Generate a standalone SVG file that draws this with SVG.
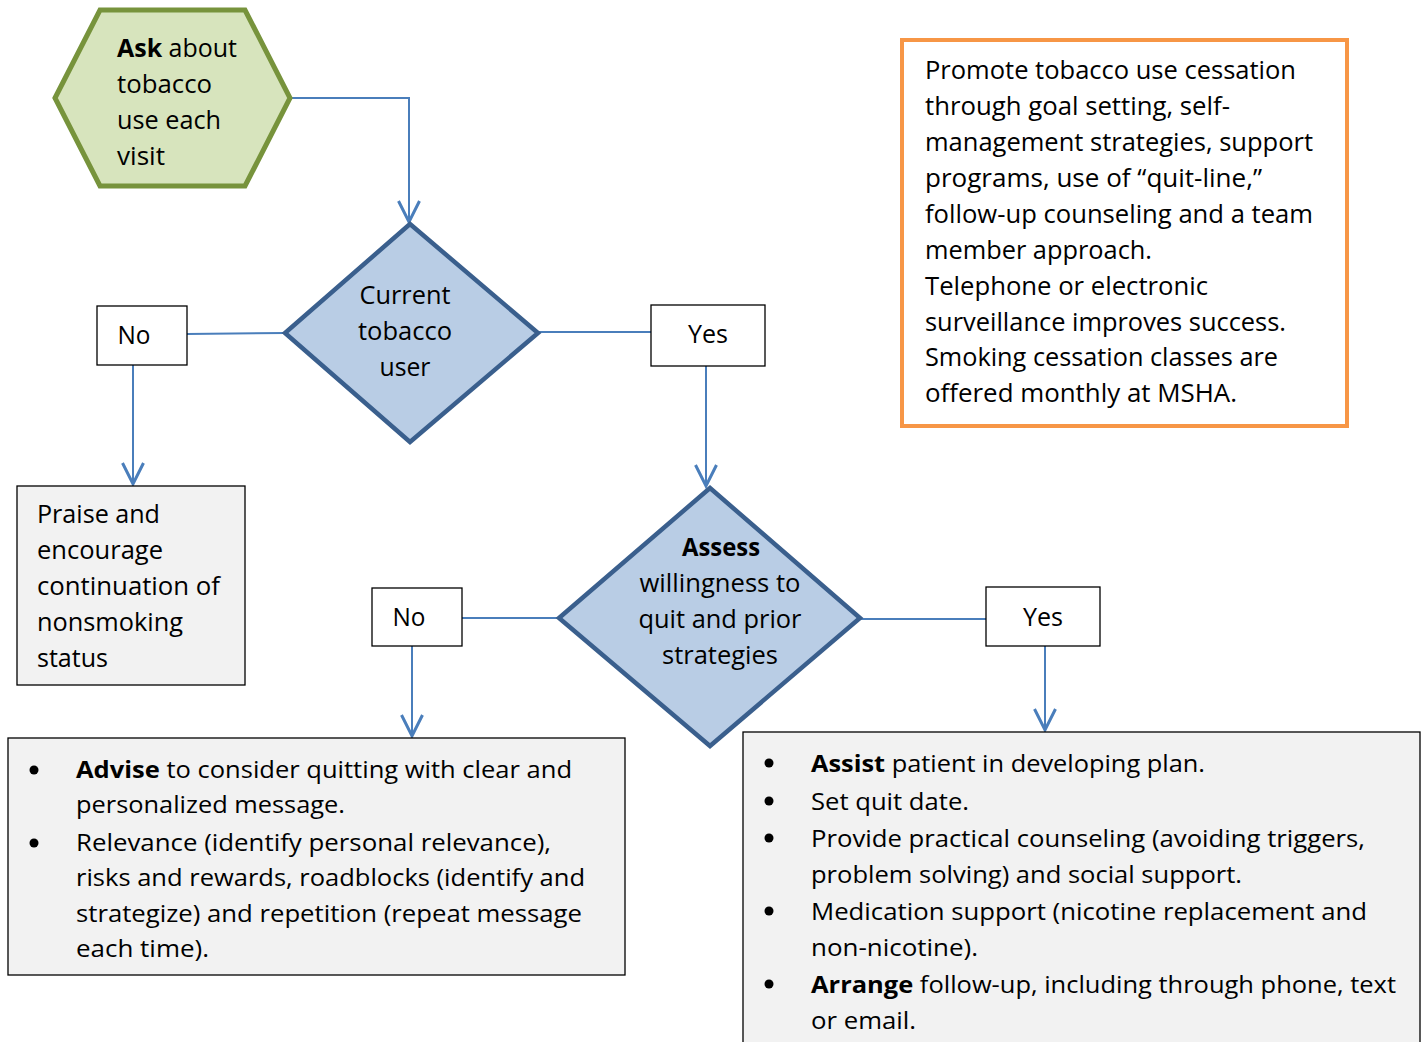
<svg xmlns="http://www.w3.org/2000/svg" width="1426" height="1042" viewBox="0 0 1426 1042">
<style>
text{font-family:"Open Sans","Noto Sans","Liberation Sans",sans-serif;fill:#000;}
.t{font-size:25px;}
.c{font-size:24px;}
.m{text-anchor:middle;}
.b{font-weight:bold;}
.conn{fill:none;stroke:#4a7ebb;stroke-width:2;}
.box{fill:#fff;stroke:#000;stroke-width:1.3;}
.gbox{fill:#f2f2f2;stroke:#000;stroke-width:1.3;}
.dia{fill:#b9cde5;stroke:#3a5f8d;stroke-width:4.5;stroke-linejoin:miter;}
</style>
<defs>
<marker id="arr" markerUnits="userSpaceOnUse" markerWidth="30" markerHeight="30" viewBox="-16 -10 20 20" refX="0" refY="0" orient="auto">
<path d="M-14,-7 L0,0 L-14,7" fill="none" stroke="#4a7ebb" stroke-width="2"/>
</marker>
</defs>
<rect width="1426" height="1042" fill="#fff"/>

<g id="connectors">
<path class="conn" d="M290,98 H409 V222" marker-end="url(#arr)"/>
<path class="conn" d="M285,333 L187,334"/>
<path class="conn" d="M538,332 H651"/>
<path class="conn" d="M133,365 V484" marker-end="url(#arr)"/>
<path class="conn" d="M706,366 V486" marker-end="url(#arr)"/>
<path class="conn" d="M559,618 H462"/>
<path class="conn" d="M860,619 H986"/>
<path class="conn" d="M412,646 V736" marker-end="url(#arr)"/>
<path class="conn" d="M1045,646 V730" marker-end="url(#arr)"/>
</g>

<g id="ask">
<polygon points="55,98 100,10 245,10 290,98 245,186 100,186" fill="#d7e4bd" stroke="#77933c" stroke-width="5"/>
<text class="t" x="117" y="57" textLength="120" lengthAdjust="spacingAndGlyphs"><tspan class="b">Ask</tspan> about</text>
<text class="t" x="117" y="93" textLength="95" lengthAdjust="spacingAndGlyphs">tobacco</text>
<text class="t" x="117" y="129" textLength="104" lengthAdjust="spacingAndGlyphs">use each</text>
<text class="t" x="117" y="165" textLength="48" lengthAdjust="spacingAndGlyphs">visit</text>
</g>

<g id="current">
<polygon class="dia" points="410,224 538,333 410,442 285,333"/>
<text class="t m" x="405" y="304" textLength="91" lengthAdjust="spacingAndGlyphs">Current</text>
<text class="t m" x="405" y="340" textLength="94" lengthAdjust="spacingAndGlyphs">tobacco</text>
<text class="t m" x="405" y="376" textLength="51" lengthAdjust="spacingAndGlyphs">user</text>
</g>

<g id="no1">
<rect class="box" x="97" y="306" width="90" height="59"/>
<text class="t m" x="134" y="344" textLength="33" lengthAdjust="spacingAndGlyphs">No</text>
</g>

<g id="yes1">
<rect class="box" x="651" y="305" width="114" height="61"/>
<text class="t m" x="708" y="343" textLength="40" lengthAdjust="spacingAndGlyphs">Yes</text>
</g>

<g id="praise">
<rect class="gbox" x="17" y="486" width="228" height="199"/>
<text class="t" x="37" y="523" textLength="123" lengthAdjust="spacingAndGlyphs">Praise and</text>
<text class="t" x="37" y="559" textLength="126" lengthAdjust="spacingAndGlyphs">encourage</text>
<text class="t" x="37" y="595" textLength="183" lengthAdjust="spacingAndGlyphs">continuation of</text>
<text class="t" x="37" y="631" textLength="146" lengthAdjust="spacingAndGlyphs">nonsmoking</text>
<text class="t" x="37" y="667" textLength="71" lengthAdjust="spacingAndGlyphs">status</text>
</g>

<g id="assess">
<polygon class="dia" points="710,488 860,618 710,746 559,618"/>
<text class="t m b" x="721" y="556" textLength="78" lengthAdjust="spacingAndGlyphs">Assess</text>
<text class="t m" x="720" y="592" textLength="161" lengthAdjust="spacingAndGlyphs">willingness to</text>
<text class="t m" x="720" y="628" textLength="163" lengthAdjust="spacingAndGlyphs">quit and prior</text>
<text class="t m" x="720" y="664" textLength="116" lengthAdjust="spacingAndGlyphs">strategies</text>
</g>

<g id="no2">
<rect class="box" x="372" y="588" width="90" height="58"/>
<text class="t m" x="409" y="626" textLength="33" lengthAdjust="spacingAndGlyphs">No</text>
</g>

<g id="yes2">
<rect class="box" x="986" y="587" width="114" height="59"/>
<text class="t m" x="1043" y="626" textLength="40" lengthAdjust="spacingAndGlyphs">Yes</text>
</g>

<g id="advise">
<rect class="gbox" x="8" y="738" width="617" height="237"/>
<circle cx="34" cy="770" r="4.5"/>
<circle cx="34" cy="843" r="4.5"/>
<text class="c" x="76" y="778" textLength="496" lengthAdjust="spacingAndGlyphs"><tspan class="b">Advise</tspan> to consider quitting with clear and</text>
<text class="c" x="76" y="813" textLength="269" lengthAdjust="spacingAndGlyphs">personalized message.</text>
<text class="c" x="76" y="851" textLength="475" lengthAdjust="spacingAndGlyphs">Relevance (identify personal relevance),</text>
<text class="c" x="76" y="886" textLength="509" lengthAdjust="spacingAndGlyphs">risks and rewards, roadblocks (identify and</text>
<text class="c" x="76" y="922" textLength="506" lengthAdjust="spacingAndGlyphs">strategize) and repetition (repeat message</text>
<text class="c" x="76" y="957" textLength="133" lengthAdjust="spacingAndGlyphs">each time).</text>
</g>

<g id="assist">
<rect class="gbox" x="743" y="732" width="677" height="320"/>
<circle cx="769" cy="763" r="4.5"/>
<circle cx="769" cy="801" r="4.5"/>
<circle cx="769" cy="838" r="4.5"/>
<circle cx="769" cy="911" r="4.5"/>
<circle cx="769" cy="984" r="4.5"/>
<text class="c" x="811" y="772" textLength="394" lengthAdjust="spacingAndGlyphs"><tspan class="b">Assist</tspan> patient in developing plan.</text>
<text class="c" x="811" y="810" textLength="158" lengthAdjust="spacingAndGlyphs">Set quit date.</text>
<text class="c" x="811" y="847" textLength="554" lengthAdjust="spacingAndGlyphs">Provide practical counseling (avoiding triggers,</text>
<text class="c" x="811" y="883" textLength="431" lengthAdjust="spacingAndGlyphs">problem solving) and social support.</text>
<text class="c" x="811" y="920" textLength="556" lengthAdjust="spacingAndGlyphs">Medication support (nicotine replacement and</text>
<text class="c" x="811" y="956" textLength="167" lengthAdjust="spacingAndGlyphs">non-nicotine).</text>
<text class="c" x="811" y="993" textLength="585" lengthAdjust="spacingAndGlyphs"><tspan class="b">Arrange</tspan> follow-up, including through phone, text</text>
<text class="c" x="811" y="1029" textLength="105" lengthAdjust="spacingAndGlyphs">or email.</text>
</g>

<g id="promote">
<rect x="902" y="40" width="445" height="386" fill="#fff" stroke="#f79646" stroke-width="4"/>
<text class="t" x="925" y="79" textLength="371" lengthAdjust="spacingAndGlyphs">Promote tobacco use cessation</text>
<text class="t" x="925" y="115" textLength="305" lengthAdjust="spacingAndGlyphs">through goal setting, self-</text>
<text class="t" x="925" y="151" textLength="388" lengthAdjust="spacingAndGlyphs">management strategies, support</text>
<text class="t" x="925" y="187" textLength="337" lengthAdjust="spacingAndGlyphs">programs, use of “quit-line,”</text>
<text class="t" x="925" y="223" textLength="388" lengthAdjust="spacingAndGlyphs">follow-up counseling and a team</text>
<text class="t" x="925" y="259" textLength="227" lengthAdjust="spacingAndGlyphs">member approach.</text>
<text class="t" x="925" y="295" textLength="283" lengthAdjust="spacingAndGlyphs">Telephone or electronic</text>
<text class="t" x="925" y="331" textLength="361" lengthAdjust="spacingAndGlyphs">surveillance improves success.</text>
<text class="t" x="925" y="366" textLength="353" lengthAdjust="spacingAndGlyphs">Smoking cessation classes are</text>
<text class="t" x="925" y="402" textLength="312" lengthAdjust="spacingAndGlyphs">offered monthly at MSHA.</text>
</g>
</svg>
